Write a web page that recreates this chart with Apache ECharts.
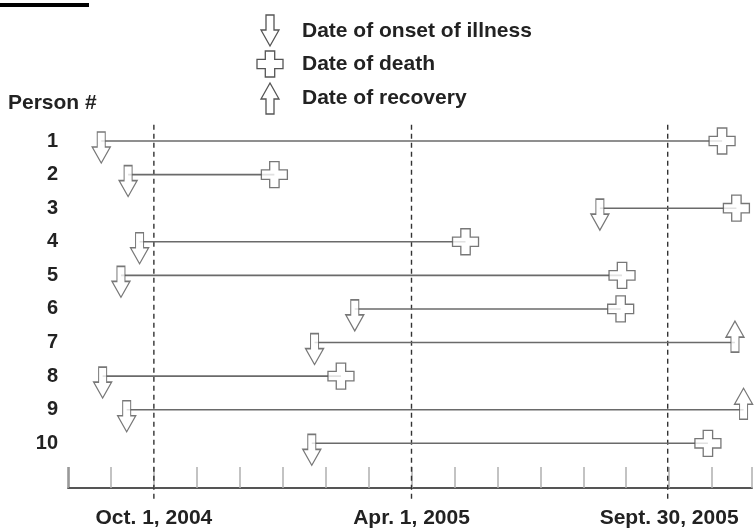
<!DOCTYPE html>
<html>
<head>
<meta charset="utf-8">
<script src="https://cdn.jsdelivr.net/npm/echarts@6/dist/echarts.min.js"></script>
<style>
  html, body { margin: 0; padding: 0; background: #fff; }
  #chart { width: 755px; height: 529px; }
</style>
</head>
<body>
<div id="chart"></div>
<script>
const persons = [1, 2, 3, 4, 5, 6, 7, 8, 9, 10]
const onsetDates = [
  '2004-08-25', '2004-09-13', '2005-08-13', '2004-09-21', '2004-09-08',
  '2005-02-20', '2005-01-24', '2004-08-26', '2004-09-12', '2005-01-22',
]
const outcomeDates = [
  '2005-11-08', '2004-12-26', '2005-11-18', '2005-05-09', '2005-08-29',
  '2005-08-28', '2005-11-17', '2005-02-11', '2005-11-23', '2005-10-29',
]
const outcomes = [
  'death', 'death', 'death', 'death', 'death',
  'death', 'recovery', 'death', 'recovery', 'death',
]
const refDates = ['2004-10-01', '2005-04-01', '2005-09-30']
const refLabels = ['Oct. 1, 2004', 'Apr. 1, 2005', 'Sept. 30, 2005']
const legendLabels = ['Date of onset of illness', 'Date of death', 'Date of recovery']

// axis runs in months, one tick per month starting Aug 1, 2004
function monthPos(s) {
  const [y, m, d] = s.split('-').map(Number)
  const days = new Date(y, m, 0).getDate()
  return (y - 2004) * 12 + (m - 8) + (d - 1) / days
}

// marker outlines
const downArrow = [[5, 0], [13, 0], [13, 15], [18, 15], [9, 31], [0, 15], [5, 15]]
const upArrow = [[9, 0], [18, 16], [13, 16], [13, 31], [5, 31], [5, 16], [0, 16]]
const cross = [
  [8.3, 0], [17.7, 0], [17.7, 8.3], [26, 8.3], [26, 17.7], [17.7, 17.7],
  [17.7, 26], [8.3, 26], [8.3, 17.7], [0, 17.7], [0, 8.3], [8.3, 8.3],
]
const toPath = (pts) => 'path://M' + pts.map((p) => p.join(',')).join(' L') + ' Z'
const moveTo = (pts, x, y) => pts.map((p) => [p[0] + x, p[1] + y])

const refPos = refDates.map(monthPos)
const font = '"Liberation Sans", Arial, sans-serif'
const ink = '#222'
const symbolStyle = { color: '#fff', borderColor: '#555', borderWidth: 1.3 }
const legendStyle = { fill: '#fff', stroke: '#555', lineWidth: 1.3 }

const chart = echarts.init(document.getElementById('chart'))

chart.setOption({
  animation: false,
  grid: { left: 68, right: 0, top: 107.4, bottom: 41 },
  xAxis: {
    type: 'value',
    position: 'bottom',
    min: 0,
    max: 15.93,
    interval: 1,
    axisLine: { onZero: false, lineStyle: { color: '#555', width: 2 } },
    axisTick: { inside: true, length: 21, lineStyle: { color: '#b0b0b0', width: 1.5 } },
    splitLine: { show: false },
    axisLabel: {
      margin: 20,
      color: ink,
      fontFamily: font,
      fontWeight: 'bold',
      fontSize: 21,
      formatter: (v) => {
        const i = refPos.findIndex((p) => Math.abs(p - v) < 0.05)
        return i >= 0 ? refLabels[i] : ''
      },
    },
  },
  yAxis: {
    type: 'value',
    inverse: true,
    min: 0,
    max: 11.33,
    interval: 1,
    axisLine: { show: false },
    axisTick: { show: false },
    splitLine: { show: false },
    axisLabel: {
      margin: 10,
      color: ink,
      fontFamily: font,
      fontWeight: 'bold',
      fontSize: 20,
      formatter: (v) => (persons.includes(v) ? String(v) : ''),
    },
  },
  graphic: [
    { type: 'rect', shape: { x: 0, y: 3, width: 89, height: 4 }, style: { fill: '#000' } },
    // darker end tick at the left of the time axis
    { type: 'line', shape: { x1: 68.5, y1: 467, x2: 68.5, y2: 488 }, style: { stroke: '#555', lineWidth: 2 } },
    {
      type: 'text', x: 8, y: 103,
      style: { text: 'Person #', fill: ink, font: 'bold 21px ' + font, verticalAlign: 'middle' },
    },
    { type: 'polygon', shape: { points: moveTo(downArrow, 261, 15) }, style: legendStyle },
    { type: 'polygon', shape: { points: moveTo(cross, 257, 51) }, style: legendStyle },
    { type: 'polygon', shape: { points: moveTo(upArrow, 261, 83) }, style: legendStyle },
    ...legendLabels.map((t, i) => ({
      type: 'text', x: 302, y: 31 + i * 33.5,
      style: { text: t, fill: ink, font: 'bold 21px ' + font, verticalAlign: 'middle' },
    })),
  ],
  series: [
    {
      type: 'custom',
      name: 'reference',
      silent: true,
      clip: false,
      z: 1,
      data: refPos.map((p) => [p, 1]),
      encode: { x: 0, y: 1 },
      renderItem: (params, api) => {
        const a = api.coord([api.value(0), 0.52])
        const b = api.coord([api.value(0), 11.74])
        return {
          type: 'line',
          shape: { x1: a[0], y1: a[1], x2: b[0], y2: b[1] },
          style: { stroke: '#333', lineWidth: 1.4, lineDash: [5, 4] },
        }
      },
    },
    {
      type: 'custom',
      name: 'illness',
      silent: true,
      z: 2,
      data: persons.map((p, i) => [monthPos(onsetDates[i]), monthPos(outcomeDates[i]), p]),
      encode: { x: [0, 1], y: 2 },
      renderItem: (params, api) => {
        const a = api.coord([api.value(0), api.value(2)])
        const b = api.coord([api.value(1), api.value(2)])
        return {
          type: 'line',
          shape: { x1: a[0], y1: a[1], x2: b[0], y2: b[1] },
          style: { stroke: '#6a6a6a', lineWidth: 1.6 },
        }
      },
    },
    {
      type: 'scatter',
      name: legendLabels[0],
      silent: true,
      z: 3,
      symbol: toPath(downArrow),
      symbolSize: [18, 31],
      symbolOffset: [0, 6.5],
      itemStyle: symbolStyle,
      data: persons.map((p, i) => [monthPos(onsetDates[i]), p]),
    },
    {
      type: 'scatter',
      name: legendLabels[1],
      silent: true,
      z: 3,
      symbol: toPath(cross),
      symbolSize: [26, 26],
      itemStyle: symbolStyle,
      data: persons
        .map((p, i) => [monthPos(outcomeDates[i]), p, outcomes[i]])
        .filter((d) => d[2] === 'death')
        .map((d) => [d[0], d[1]]),
    },
    {
      type: 'scatter',
      name: legendLabels[2],
      silent: true,
      z: 3,
      symbol: toPath(upArrow),
      symbolSize: [18, 31],
      symbolOffset: [0, -6],
      itemStyle: symbolStyle,
      data: persons
        .map((p, i) => [monthPos(outcomeDates[i]), p, outcomes[i]])
        .filter((d) => d[2] === 'recovery')
        .map((d) => [d[0], d[1]]),
    },
  ],
})
</script>
</body>
</html>
